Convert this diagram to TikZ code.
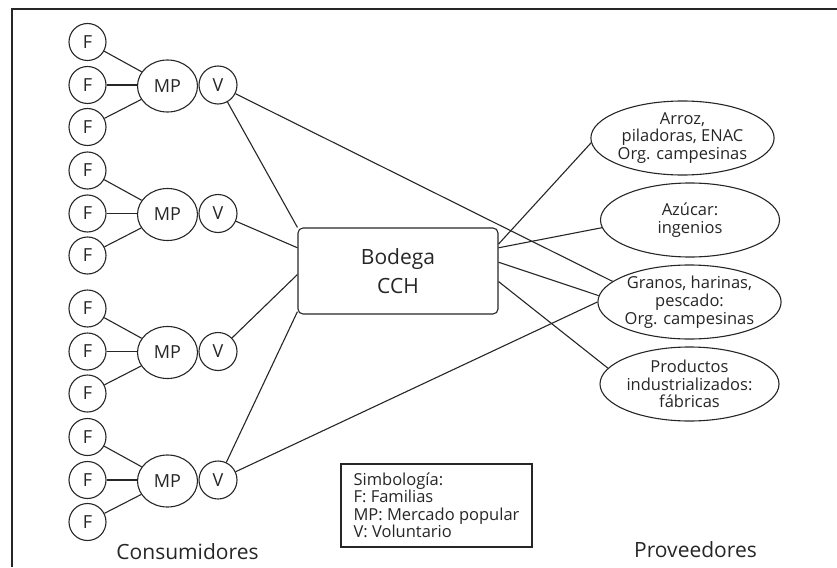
\documentclass[tikz,border=0pt]{standalone}
\usepackage{fontspec}
\setmainfont{Open Sans}
\usetikzlibrary{shapes.geometric}
\begin{document}
\begin{tikzpicture}[x=1pt,y=-1pt,line width=1.1pt,color=black!85,
  fam/.style={draw,circle,minimum size=37pt,inner sep=0pt,font=\fontsize{18}{20}\selectfont},
  mkt/.style={draw,ellipse,minimum width=60pt,minimum height=52pt,inner sep=0pt,font=\fontsize{18}{20}\selectfont},
  vol/.style={draw,circle,minimum size=38pt,inner sep=0pt,font=\fontsize{18}{20}\selectfont},
  hub/.style={draw,rectangle,rounded corners=5pt,minimum width=200pt,minimum height=86pt,inner sep=0pt,align=center,font=\fontsize{21}{29}\selectfont},
  prov/.style={draw,ellipse,minimum width=179pt,minimum height=74pt,inner sep=0pt,align=center,font=\fontsize{16.5}{17.8}\selectfont},
  legend/.style={draw,rectangle,minimum width=191pt,minimum height=83pt,inner sep=0pt,align=left,font=\fontsize{16.5}{17.5}\selectfont},
  title/.style={anchor=base,font=\fontsize{21}{25}\selectfont}]
\useasboundingbox (0,0) rectangle (837,567);
% outer frame
\draw (12,567) -- (12,9) -- (837,9);

% consumer groups: three families, a popular market and a volunteer
\foreach \g/\y in {1/85,2/213.5,3/351.5,4/480}{
  \node[fam] (fa\g) at (87.5,\y-43) {F};
  \node[fam] (fb\g) at (87.5,\y) {F};
  \node[fam] (fc\g) at (87.5,\y+42) {F};
  \node[mkt] (mp\g) at (167.5,\y+1) {MP};
  \node[vol] (v\g) at (218,\y) {V};
  \draw (fa\g) -- (mp\g);
  \draw (fb\g.east) -- (fb\g.east -| mp\g.west);
  \draw (fc\g) -- (mp\g);
}

% central warehouse
\node[hub] (bodega) at (398,271) {Bodega\\CCH};

% suppliers
\node[prov] (arroz) at (682.5,138) {Arroz,\\piladoras, ENAC\\Org. campesinas};
\node[prov] (azucar) at (690,220) {Azúcar:\\ingenios};
\node[prov] (granos) at (689.5,302) {Granos, harinas,\\pescado:\\Org. campesinas};
\node[prov] (productos) at (689.5,384) {Productos\\industrializados:\\fábricas};

% legend
\node[legend] (simb) at (436.5,505.5) {Simbología:\\F: Familias\\MP: Mercado popular\\V: Voluntario};

% side titles
\node[title] (cons) at (187.5,559) {Consumidores};
\node[title] (provs) at (695.5,557) {Proveedores};

% connections
\draw (v1) -- (bodega.north west);
\draw (v2) -- (bodega.167);
\draw (v3) -- (bodega.182);
\draw (v4) -- (bodega.202);
\draw (v1) -- (granos.165);
\draw (v4) -- (granos.180);
\draw (bodega.15.6) -- (arroz.183);
\draw (bodega.13) -- (azucar.185);
\draw (bodega.5) -- (granos.176);
\draw (bodega.-6) -- (productos.169);
\end{tikzpicture}
\end{document}
